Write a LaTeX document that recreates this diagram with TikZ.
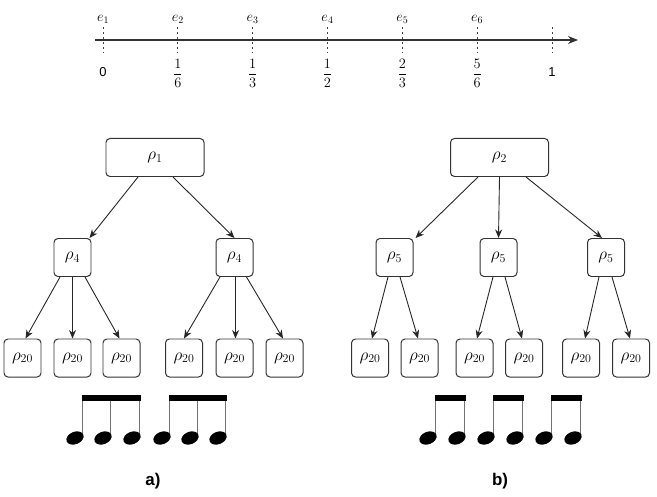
\documentclass[tikz,border=0pt]{standalone}
\usepackage{amsmath}
\usepackage{fontspec}
\setsansfont{Liberation Sans}
\usetikzlibrary{arrows.meta}
\begin{document}
\begin{tikzpicture}[x=1bp,y=-1bp]
\useasboundingbox (0,0) rectangle (657,497);
\tikzset{
  rbox/.style={draw=black!80, line width=1pt, rounded corners=4bp, minimum height=38bp, inner sep=0pt, font=\fontsize{17}{19}\selectfont},
  wbox/.style={rbox, minimum width=98bp},
  sbox/.style={rbox, minimum width=37bp},
  arr/.style={draw=black!85, line width=0.9pt, -{Stealth[length=8.5bp,width=7bp]}},
  tickline/.style={draw=black!75, line width=0.8pt, dash pattern=on 2.5bp off 2.5bp},
  tlab/.style={font=\fontsize{14}{16}\selectfont, inner sep=0pt},
  nlab/.style={font=\sffamily\fontsize{13}{15}\selectfont, inner sep=0pt},
  stemline/.style={draw=black!55, line width=1.1pt},
  beam/.style={fill=black},
  head/.style={fill=black},
  caplab/.style={font=\sffamily\bfseries\fontsize{17}{19}\selectfont, inner sep=0pt}
}
% ---------- timeline ----------
\coordinate (ts) at (95,40);
\coordinate (te) at (578,40);
\foreach \i in {0,...,6}{
  \draw[tickline] (103+74.83*\i,27) -- (103+74.83*\i,53);
}
\draw[draw=black!80, line width=1.2pt, -{Stealth[length=10bp,width=8bp]}] (ts) -- (te);
\foreach \i [evaluate=\i as \n using int(\i+1)] in {0,...,5}{
  \node[tlab] (e\n) at (103+74.83*\i,19) {$e_{\n}$};
}
\node[nlab] (n0) at (103,72) {0};
\node[nlab] (n6) at (552,72) {1};
\node[tlab] (n1) at (177.8,73.5) {$\dfrac{1}{6}$};
\node[tlab] (n2) at (252.7,73.5) {$\dfrac{1}{3}$};
\node[tlab] (n3) at (327.5,73.5) {$\dfrac{1}{2}$};
\node[tlab] (n4) at (402.3,73.5) {$\dfrac{2}{3}$};
\node[tlab] (n5) at (477.2,73.5) {$\dfrac{5}{6}$};

% ---------- tree a ----------
\node[wbox] (r1) at (155,157.5) {$\rho_1$};
\node[sbox] (a4l) at (72.5,257.5) {$\rho_4$};
\node[sbox] (a4r) at (234.5,257.5) {$\rho_4$};
\node[sbox] (la1) at (22.5,358) {$\rho_{20}$};
\node[sbox] (la2) at (72.5,358) {$\rho_{20}$};
\node[sbox] (la3) at (121.5,358) {$\rho_{20}$};
\node[sbox] (la4) at (184,358) {$\rho_{20}$};
\node[sbox] (la5) at (234.5,358) {$\rho_{20}$};
\node[sbox] (la6) at (284.5,358) {$\rho_{20}$};
\draw[arr] ([xshift=-17bp]r1.south) -- ([xshift=-2bp]a4l.north east);
\draw[arr] ([xshift=18bp]r1.south) -- (a4r.north);
\draw[arr] ([xshift=-12.5bp]a4l.south) -- ([xshift=3bp]la1.north);
\draw[arr] (a4l.south) -- (la2.north);
\draw[arr] ([xshift=12.5bp]a4l.south) -- ([xshift=-2bp]la3.north);
\draw[arr] ([xshift=-14.5bp]a4r.south) -- (la4.north);
\draw[arr] ([xshift=1bp]a4r.south) -- ([xshift=1bp]la5.north);
\draw[arr] ([xshift=12bp]a4r.south) -- ([xshift=-1.5bp]la6.north);

% ---------- tree b ----------
\node[wbox] (r2) at (499.5,157.5) {$\rho_2$};
\node[sbox] (b5l) at (394.5,257.5) {$\rho_5$};
\node[sbox] (b5m) at (498.5,257.5) {$\rho_5$};
\node[sbox] (b5r) at (606,257.5) {$\rho_5$};
\node[sbox] (lb1) at (370,358) {$\rho_{20}$};
\node[sbox] (lb2) at (419.5,358) {$\rho_{20}$};
\node[sbox] (lb3) at (474.5,358) {$\rho_{20}$};
\node[sbox] (lb4) at (524,358) {$\rho_{20}$};
\node[sbox] (lb5) at (581,358) {$\rho_{20}$};
\node[sbox] (lb6) at (631,358) {$\rho_{20}$};
\draw[arr] ([xshift=-21.5bp]r2.south) -- ([xshift=2bp]b5l.north east);
\draw[arr] (r2.south) -- (b5m.north);
\draw[arr] ([xshift=26.5bp]r2.south) -- ([xshift=-4bp]b5r.north);
\draw[arr] ([xshift=-6.5bp]b5l.south) -- ([xshift=2bp]lb1.north);
\draw[arr] ([xshift=5.5bp]b5l.south) -- ([xshift=-1.5bp]lb2.north);
\draw[arr] ([xshift=-5.5bp]b5m.south) -- ([xshift=2.5bp]lb3.north);
\draw[arr] ([xshift=6.5bp]b5m.south) -- ([xshift=-2bp]lb4.north);
\draw[arr] ([xshift=-7bp]b5r.south) -- ([xshift=4bp]lb5.north);
\draw[arr] ([xshift=6bp]b5r.south) -- ([xshift=-1bp]lb6.north);

% ---------- notes a ----------
\foreach \x in {75,103,132,162,190,218}{
  \draw[stemline] (\x+7.8,436) -- (\x+7.8,397);
  \fill[head, rotate around={22:(\x,438)}] (\x,438) ellipse [x radius=9, y radius=6.2];
}
\fill[beam] (82,394.5) rectangle (140.8,400.5);
\fill[beam] (168.8,394.5) rectangle (226.8,400.5);
\node[caplab] (capa) at (153,481) {a)};

% ---------- notes b ----------
\foreach \x in {428,457,486,515,544,573}{
  \draw[stemline] (\x+7.8,436) -- (\x+7.8,397);
  \fill[head, rotate around={22:(\x,438)}] (\x,438) ellipse [x radius=9, y radius=6.2];
}
\fill[beam] (434.8,394.5) rectangle (465.8,400.5);
\fill[beam] (492.8,394.5) rectangle (523.8,400.5);
\fill[beam] (550.8,394.5) rectangle (581.8,400.5);
\node[caplab] (capb) at (500,481) {b)};
\end{tikzpicture}
\end{document}
